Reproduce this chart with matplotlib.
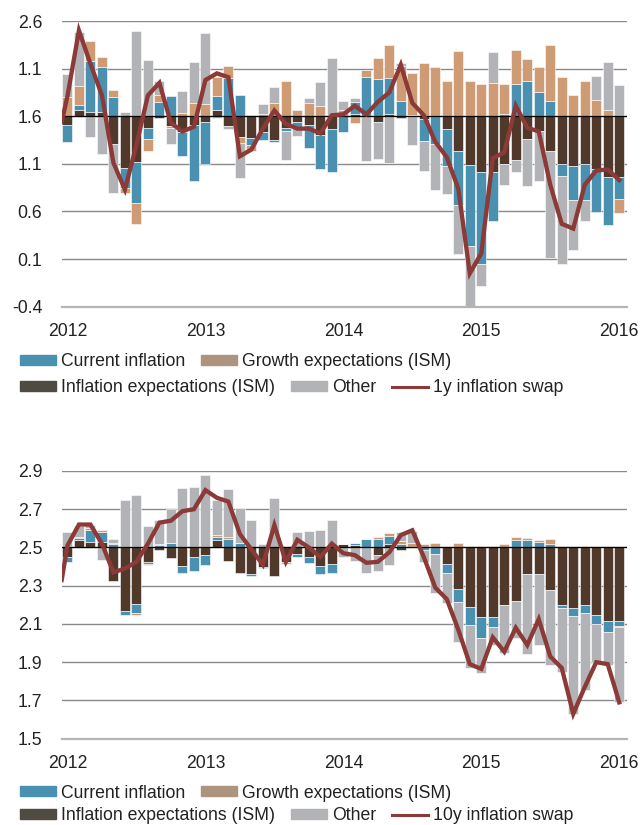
import matplotlib.pyplot as plt
import numpy as np
from matplotlib.patches import Patch
from matplotlib.lines import Line2D

plt.rcParams['font.family'] = ['Liberation Sans', 'DejaVu Sans']

# ---- top panel: 1y inflation swap decomposition (monthly, Jan 2012 - Jan 2016)
top_infl_exp = [-0.09, 0.063, 0.045, 0.045, -0.29, -0.54, -0.48, -0.12, -0.02, -0.105,
                -0.165, -0.09, -0.06, 0.063, -0.105, -0.22, -0.23, -0.165, -0.25, -0.12,
                -0.06, -0.09, -0.20, -0.135, 0.0, 0.025, 0.0, -0.06, 0.025, -0.02,
                0.015, -0.025, 0.0, -0.135, -0.36, -0.51, -0.59, -0.59, -0.50, -0.455,
                -0.235, -0.15, -0.37, -0.50, -0.52, -0.50, -0.555, -0.64, -0.64]
top_current = [-0.18, 0.053, 0.53, 0.47, 0.20, -0.21, -0.43, -0.12, 0.15, 0.21,
               -0.255, -0.59, -0.44, 0.15, 0.40, 0.22, -0.07, -0.08, -0.02, -0.04,
               -0.05, -0.24, -0.35, -0.45, -0.165, 0.12, 0.41, 0.39, 0.38, 0.16,
               0.0, -0.24, -0.29, -0.385, -0.57, -0.85, -0.96, -0.51, 0.025, 0.34,
               0.37, 0.25, 0.16, -0.13, -0.36, -0.38, -0.45, -0.50, -0.23]
top_growth = [0.20, 0.20, 0.21, 0.11, 0.08, -0.06, -0.22, -0.13, 0.07, -0.02,
              0.03, 0.14, 0.13, 0.20, 0.13, -0.06, -0.06, 0.02, 0.14, 0.37,
              0.063, 0.14, 0.11, 0.0, 0.07, -0.07, 0.08, 0.22, 0.34, 0.37,
              0.44, 0.56, 0.52, 0.37, 0.68, 0.37, 0.34, 0.35, 0.31, 0.36,
              0.23, 0.27, 0.585, 0.41, 0.22, 0.37, 0.17, 0.07, -0.15]
top_other = [0.245, 0.57, -0.22, -0.40, -0.52, 0.04, 0.90, 0.59, 0.15, -0.165,
             0.23, 0.43, 0.74, -0.02, -0.03, -0.37, 0.0, 0.105, 0.17, -0.30,
             -0.095, 0.05, 0.245, 0.61, 0.095, 0.05, -0.47, -0.39, -0.49, 0.03,
             -0.30, -0.31, -0.48, -0.30, -0.52, -0.66, -0.235, 0.32, -0.22, -0.13,
             -0.50, -0.53, -1.12, -0.92, -0.525, -0.22, 0.255, 0.50, 0.33]
# first value is the December 2011 point at the left edge
top_swap = [1.54, 1.81, 2.50, 2.15, 1.82, 1.11, 0.83, 1.30, 1.82, 1.95, 1.53,
            1.44, 1.49, 1.98, 2.05, 2.01, 1.18, 1.25, 1.47, 1.66, 1.52,
            1.47, 1.47, 1.42, 1.61, 1.62, 1.71, 1.62, 1.75, 1.85, 2.14,
            1.74, 1.61, 1.33, 1.17, 0.84, -0.05, 0.16, 1.16, 1.22, 1.71,
            1.48, 1.44, 0.88, 0.47, 0.42, 0.88, 1.03, 1.04, 0.93]
top_ticks = [-0.4, 0.1, 0.6, 1.1, 1.6, 2.1, 2.6]
top_ticklabels = ["-0.4", "0.1", "0.6", "1.1", "1.6", "1.1", "2.6"]

# ---- bottom panel: 10y inflation swap decomposition
bot_infl_exp = [-0.05, 0.038, 0.03, 0.03, -0.174, -0.331, -0.293, -0.078, -0.014, -0.057,
                -0.098, -0.052, -0.037, 0.038, -0.071, -0.131, -0.141, -0.10, -0.15, -0.075,
                -0.035, -0.052, -0.096, -0.084, 0.017, 0.012, 0.0, -0.037, 0.016, -0.014,
                0.0, 0.0, 0.0, -0.084, -0.218, -0.31, -0.362, -0.362, -0.301, -0.279,
                -0.141, -0.141, -0.223, -0.301, -0.315, -0.301, -0.354, -0.385, -0.385]
bot_current = [-0.025, 0.009, 0.061, 0.052, 0.017, -0.023, -0.052, -0.009, 0.012, 0.023,
               -0.033, -0.07, -0.052, 0.017, 0.044, 0.023, -0.009, -0.009, 0.0, 0.0,
               -0.014, -0.028, -0.045, -0.052, 0.0, 0.014, 0.044, 0.044, 0.044, 0.017,
               0.0, -0.014, -0.035, -0.047, -0.066, -0.096, -0.11, -0.056, 0.0, 0.038,
               0.038, 0.03, 0.017, -0.014, -0.042, -0.04, -0.047, -0.056, -0.024]
bot_growth = [0.0, 0.007, 0.009, 0.009, 0.005, 0.0, -0.009, -0.005, 0.005, 0.0,
              0.0, 0.0, 0.0, 0.012, 0.009, 0.0, 0.0, 0.0, 0.0, 0.009,
              0.0, 0.0, 0.0, 0.0, 0.0, 0.0, 0.0, 0.012, 0.014, 0.016,
              0.024, 0.017, 0.026, 0.01, 0.021, 0.01, 0.009, 0.009, 0.016, 0.016,
              0.009, 0.007, 0.026, 0.01, 0.005, 0.01, 0.0, 0.0, -0.007]
bot_other = [0.082, 0.06, 0.017, -0.066, 0.024, 0.247, 0.274, 0.111, 0.125, 0.178,
             0.312, 0.314, 0.38, 0.183, 0.251, 0.185, 0.143, 0.017, 0.261, -0.01,
             0.082, 0.085, 0.09, 0.146, -0.052, -0.07, -0.136, -0.085, -0.089, 0.049,
             0.061, -0.064, -0.205, -0.157, -0.209, -0.223, -0.183, -0.092, -0.253, -0.193,
             -0.418, -0.369, -0.389, -0.338, -0.516, -0.404, -0.197, -0.171, -0.394]
bot_swap = [2.33, 2.51, 2.62, 2.62, 2.52, 2.37, 2.39, 2.425, 2.52, 2.63, 2.64,
            2.69, 2.70, 2.80, 2.76, 2.74, 2.57, 2.49, 2.41, 2.617, 2.425,
            2.54, 2.50, 2.45, 2.52, 2.47, 2.46, 2.42, 2.425, 2.475, 2.565,
            2.59, 2.45, 2.29, 2.23, 2.07, 1.89, 1.865, 2.03, 1.955, 2.08,
            1.99, 2.125, 1.93, 1.87, 1.63, 1.77, 1.90, 1.89, 1.69]
bot_ticks = [1.5, 1.7, 1.9, 2.1, 2.3, 2.5, 2.7, 2.9]

years = ["2012", "2013", "2014", "2015", "2016"]

c_current = '#4a90b0'
c_growth = '#cf9b75'
c_inflexp = '#50382a'
c_other = '#b2b3b7'
c_swap = '#8b3a37'
txt = '#222222'


def draw_panel(ax, comps, swap, base, ticks, ticklabels, ylim, swap_label, leg_y):
    n = len(comps[0][0])
    x = np.arange(n)
    pos = np.zeros(n)
    neg = np.zeros(n)
    for vals, col in comps:
        vals = np.array(vals)
        bottom = np.where(vals >= 0, pos, neg)
        ax.bar(x, vals, bottom=base + bottom, width=0.87, color=col,
               edgecolor='white', linewidth=0.4, zorder=2)
        pos += np.clip(vals, 0, None)
        neg += np.clip(vals, None, 0)
    ax.axhline(base, color='black', lw=0.9, zorder=3)
    xs = np.concatenate([[-0.5], x])
    ax.plot(xs, swap, color=c_swap, lw=3.1, zorder=4, solid_joinstyle='miter')

    ax.set_xlim(-0.5, 48.65)
    ax.set_ylim(*ylim)
    ax.set_yticks(ticks)
    ax.set_yticklabels(ticklabels)
    ax.set_xticks(np.arange(0, n, 12))
    ax.set_xticklabels(years)
    ax.tick_params(axis='both', length=0, labelsize=12.7, colors=txt)
    ax.tick_params(axis='y', pad=14)
    ax.tick_params(axis='x', pad=12)
    ax.yaxis.grid(True, color='#8a8a8a', lw=1.0, zorder=0)
    ax.set_axisbelow(True)
    for s in ['top', 'left', 'right']:
        ax.spines[s].set_visible(False)
    ax.spines['bottom'].set_color('#b5b5b5')
    ax.spines['bottom'].set_linewidth(1.6)

    row1 = [Patch(color='#4a90b0'), Patch(color='#ad947e')]
    row2 = [Patch(color='#4f4a42'), Patch(color=c_other),
            Line2D([], [], color=c_swap, lw=2.2)]
    kw = dict(loc='center left', frameon=False, borderpad=0, borderaxespad=0,
              handlelength=2.05, handleheight=0.5, handletextpad=0.28,
              columnspacing=0.9, fontsize=12.7, labelcolor=txt,
              bbox_transform=fig.transFigure)
    l1 = fig.legend(row1, ["Current inflation", "Growth expectations (ISM)"],
                    ncol=2, bbox_to_anchor=(20 / 640, leg_y[0]), **kw)
    fig.legend(row2, ["Inflation expectations (ISM)", "Other", swap_label],
               ncol=3, bbox_to_anchor=(20 / 640, leg_y[1]), **kw)


fig = plt.figure(figsize=(6.4, 8.25), dpi=100)
ax1 = fig.add_axes([61.7 / 640, 1 - 306.7 / 825, 565 / 640, 285.7 / 825])
ax2 = fig.add_axes([61.7 / 640, 1 - 738.7 / 825, 565 / 640, 267.7 / 825])

draw_panel(ax1,
           [(top_infl_exp, c_inflexp), (top_current, c_current),
            (top_growth, c_growth), (top_other, c_other)],
           top_swap, 1.6, top_ticks, top_ticklabels, (-0.4, 2.6),
           "1y inflation swap", (1 - 362 / 825, 1 - 388 / 825))

draw_panel(ax2,
           [(bot_infl_exp, c_inflexp), (bot_current, c_current),
            (bot_growth, c_growth), (bot_other, c_other)],
           bot_swap, 2.5, bot_ticks, ["%.1f" % t for t in bot_ticks], (1.5, 2.9),
           "10y inflation swap", (1 - 793 / 825, 1 - 816 / 825))

fig.savefig("out.png", dpi=100)
